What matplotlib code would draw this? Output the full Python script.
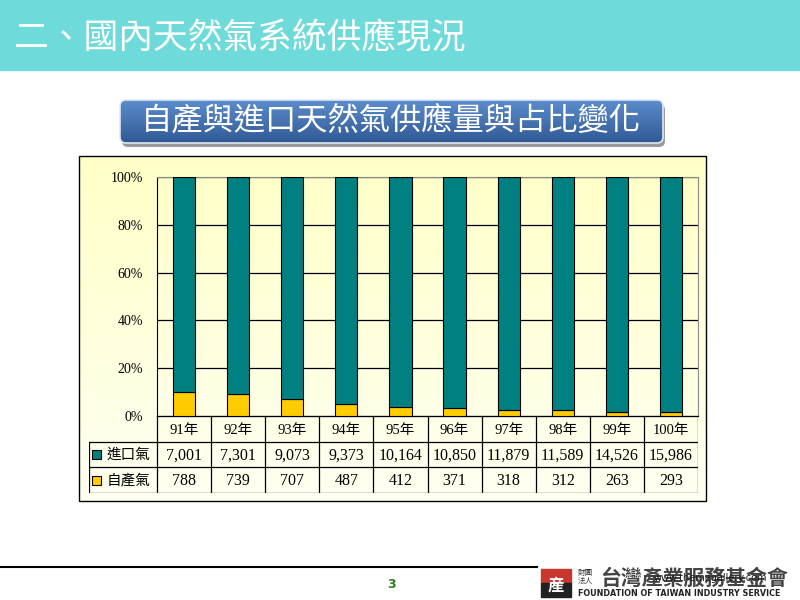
import matplotlib
matplotlib.use("Agg")
import matplotlib.pyplot as plt
import numpy as np
from matplotlib.patches import Rectangle, FancyBboxPatch

# data (units as shown in the table)
years = ["91年", "92年", "93年", "94年", "95年", "96年", "97年", "98年", "99年", "100年"]
imported = [7001, 7301, 9073, 9373, 10164, 10850, 11879, 11589, 14526, 15986]
domestic = [788, 739, 707, 487, 412, 371, 318, 312, 263, 293]
series_names = ["進口氣", "自產氣"]
series_colors = ["#008080", "#FFCC00"]

cjk = ["Noto Sans CJK TC", "DejaVu Sans"]
serif_cjk = ["Liberation Serif", "Noto Sans CJK TC"]

fig = plt.figure(figsize=(8, 6), dpi=100)

# full-figure axes in pixel coords for the slide decorations
deco = fig.add_axes([0, 0, 1, 1])
deco.axis("off")

# header band
deco.add_patch(Rectangle((0, 0), 800, 70, color="#6FDADA", zorder=1))
deco.text(14, 39, "二、國內天然氣系統供應現況", color="white", fontsize=25,
          family=cjk, weight="normal", va="center", ha="left", zorder=3)

# subtitle box with shadow + gradient
deco.add_patch(FancyBboxPatch((122, 104), 543, 43, boxstyle="round,pad=0,rounding_size=6",
                              facecolor="#9a9a9a", edgecolor="none", zorder=1))
box = FancyBboxPatch((120, 100), 543, 43, boxstyle="round,pad=0,rounding_size=6",
                     facecolor="none", edgecolor="#dfe8f3", lw=1.2, zorder=3)
deco.add_patch(box)
grad = np.linspace(0, 1, 50)[:, None]
c_top = np.array([0.36, 0.55, 0.80])
c_bot = np.array([0.19, 0.35, 0.58])
img = c_top[None, None, :] * (1 - grad[:, :, None]) + c_bot[None, None, :] * grad[:, :, None]
im = deco.imshow(img, extent=(120, 663, 143, 100), origin="upper", aspect="auto", zorder=2)
im.set_clip_path(box)
deco.text(391, 121, "自產與進口天然氣供應量與占比變化", color="white", fontsize=22.5,
          family=cjk, weight="normal", va="center", ha="center", zorder=4)

# chart area background (light yellow gradient) and frame
g = np.linspace(0, 1, 80)[:, None]
y_top = np.array([1.0, 1.0, 0.78])
y_bot = np.array([1.0, 1.0, 0.95])
bg = y_top[None, None, :] * (1 - g[:, :, None]) + y_bot[None, None, :] * g[:, :, None]
deco.imshow(bg, extent=(79, 706, 501, 156), origin="upper", aspect="auto", zorder=1)
deco.add_patch(Rectangle((79, 156), 627, 345, facecolor="none", edgecolor="black", lw=1.0, zorder=2))

# footer
deco.plot([0, 537], [567, 567], color="black", lw=1.5, zorder=2)
deco.text(391, 584, "3", color="#2E7D1E", fontsize=9, weight="bold", ha="center", va="center")
deco.add_patch(Rectangle((541, 569), 30, 14, color="#C8372D", zorder=2))
deco.add_patch(Rectangle((541, 583), 30, 14, color="#222222", zorder=2))
deco.text(556, 585, "産", color="white", fontsize=12, family=cjk, ha="center", va="center",
          weight="bold", zorder=3)
deco.text(578, 577, "財團\n法人", color="#333333", fontsize=5.5, family=cjk, ha="left",
          va="center", linespacing=1.0)
deco.text(600, 578, "台灣產業服務基金會", color="#444444", fontsize=15, family=cjk,
          ha="left", va="center", weight="bold")
deco.text(710, 578, "www.themegallery.com", color="#222222", fontsize=7, ha="center",
          va="center", zorder=4)
deco.text(578, 593, "FOUNDATION OF TAIWAN INDUSTRY SERVICE", color="#222222", fontsize=5.8,
          family="DejaVu Sans", weight="bold", ha="left", va="center")

deco.set_xlim(0, 800)
deco.set_ylim(600, 0)


def fx(x):
    return x / 800


def fy(y):
    return 1 - y / 600


# plot area
left, right, top, bottom = 157, 698, 177, 416
ax = fig.add_axes([fx(left), fy(bottom), (right - left) / 800, (bottom - top) / 600])
ax.set_facecolor("none")

imp = np.array(imported, dtype=float)
dom = np.array(domestic, dtype=float)
total = imp + dom
x = np.arange(len(years))
w = 0.41
ax.bar(x, dom / total, w, color=series_colors[1], edgecolor="black", lw=0.8, zorder=3)
ax.bar(x, imp / total, w, bottom=dom / total, color=series_colors[0], edgecolor="black",
       lw=0.8, zorder=3)

ax.set_xlim(-0.5, len(years) - 0.5)
ax.set_ylim(0, 1)
ax.set_yticks(np.arange(0, 1.01, 0.2))
ax.set_yticklabels([f"{int(round(v * 100))}%" for v in np.arange(0, 1.01, 0.2)],
                   family="Liberation Serif", fontsize=10)
ax.tick_params(axis="y", length=0, pad=10)
ax.set_xticks([])
ax.yaxis.grid(True, color="black", lw=0.9)
ax.set_axisbelow(True)
ax.spines["left"].set_color("black")
ax.spines["bottom"].set_color("black")
ax.spines["top"].set_color("#8a8a8a")
ax.spines["right"].set_color("#8a8a8a")

# data table under the plot, aligned to the category axis
tab_left, tab_bottom = 89, 493
unit = (right - left) / len(years)
ax_t = fig.add_axes([fx(tab_left), fy(tab_bottom), (right - tab_left) / 800, (tab_bottom - bottom) / 600])
ax_t.axis("off")
x0 = -0.5 - (left - tab_left) / unit
ax_t.set_xlim(x0, len(years) - 0.5)
ax_t.set_ylim(3, 0)

lw = 0.9
ax_t.plot([-0.5, len(years) - 0.5], [0, 0], color="black", lw=lw)
for r in (1, 2, 3):
    ax_t.plot([x0, len(years) - 0.5], [r, r], color="black", lw=lw)
ax_t.plot([x0, x0], [1, 3], color="black", lw=lw)
for b in np.arange(-0.5, len(years), 1.0):
    ax_t.plot([b, b], [0, 3], color="black", lw=lw)

for i, yr in enumerate(years):
    ax_t.text(i, 0.55, yr, ha="center", va="center", family=serif_cjk, fontsize=10.5)
    ax_t.text(i, 1.55, f"{imported[i]:,}", ha="center", va="center", family="Liberation Serif",
              fontsize=11.5)
    ax_t.text(i, 2.55, f"{domestic[i]:,}", ha="center", va="center", family="Liberation Serif",
              fontsize=11.5)

for r, (name, col) in enumerate(zip(series_names, series_colors)):
    ax_t.add_patch(Rectangle((x0 + 0.05, 1.32 + r), 0.17, 0.36, facecolor=col,
                             edgecolor="black", lw=0.8))
    ax_t.text(x0 + 0.32, 1.52 + r, name, ha="left", va="center", family=cjk, fontsize=10.5)

fig.savefig("out.png", dpi=100)
